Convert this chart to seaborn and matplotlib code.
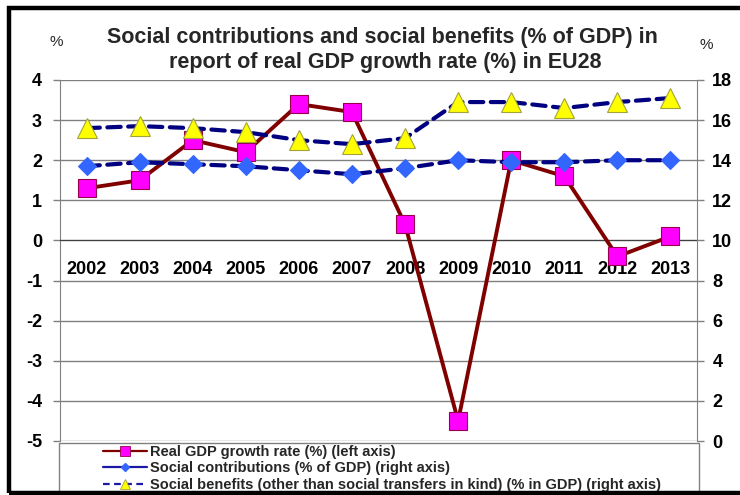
import matplotlib
matplotlib.use("Agg")
import matplotlib.pyplot as plt
from matplotlib.patches import Rectangle
from matplotlib.lines import Line2D
import seaborn as sns
import pandas as pd
import numpy as np

years = [2002, 2003, 2004, 2005, 2006, 2007, 2008, 2009, 2010, 2011, 2012, 2013]
gdp_growth = [1.3, 1.5, 2.5, 2.2, 3.4, 3.2, 0.4, -4.5, 2.0, 1.6, -0.4, 0.1]
social_contrib = [13.7, 13.9, 13.8, 13.7, 13.5, 13.3, 13.6, 14.0, 13.9, 13.9, 14.0, 14.0]
social_benefits = [15.6, 15.7, 15.6, 15.4, 15.0, 14.8, 15.1, 16.9, 16.9, 16.6, 16.9, 17.1]

title_lines = ["Social contributions and social benefits (% of GDP) in",
               "report of real GDP growth rate (%) in EU28"]
legend_labels = ["Real GDP growth rate (%) (left axis)",
                 "Social contributions (% of GDP) (right axis)",
                 "Social benefits (other than social transfers in kind) (% in GDP) (right axis)"]
left_ticks = [-5, -4, -3, -2, -1, 0, 1, 2, 3, 4]
right_ticks = [0, 2, 4, 6, 8, 10, 12, 14, 16, 18]

df = pd.DataFrame({"year": years, "gdp": gdp_growth,
                   "contrib": social_contrib, "benefits": social_benefits})

sns.set_style("white")
plt.rcParams["font.family"] = ["Liberation Sans", "DejaVu Sans"]

W, H = 740, 495
fig = plt.figure(figsize=(W / 100, H / 100), dpi=100)
fig.patch.set_facecolor("white")

ax = fig.add_axes([60 / W, 1 - 441 / H, (697 - 60) / W, (441 - 80) / H])
ax2 = ax.twinx()

# Left axis: GDP growth
sns.lineplot(data=df, x="year", y="gdp", ax=ax, color="#800000", linewidth=2.8,
             marker="s", markersize=13.5, markerfacecolor="#FF00FF",
             markeredgecolor="#99004C", markeredgewidth=0.8, zorder=3)

# Right axis: social contributions & benefits
sns.lineplot(data=df, x="year", y="contrib", ax=ax2, color="#000080", linewidth=3,
             marker="D", markersize=9, markerfacecolor="#3366FF",
             markeredgecolor="#3366FF", markeredgewidth=0.8, zorder=3)
ax2.lines[-1].set_dashes([3.2, 1.8])
ax2.lines[-1].set_dash_capstyle("round")
sns.lineplot(data=df, x="year", y="benefits", ax=ax2, color="#000080", linewidth=3,
             marker="^", markersize=14, markerfacecolor="#FFFF00",
             markeredgecolor="#A3A33A", markeredgewidth=0.8, zorder=3)
ax2.lines[-1].set_dashes([3.2, 1.8])
ax2.lines[-1].set_dash_capstyle("round")

ax.set_xlim(years[0] - 0.5, years[-1] + 0.5)
ax.set_ylim(left_ticks[0], left_ticks[-1])
ax2.set_ylim(right_ticks[0], right_ticks[-1])

ax.set_xticks(years)
ax.set_xticklabels([str(y) for y in years])
ax.set_xticks([y - 0.5 for y in years] + [years[-1] + 0.5], minor=True)
ax.set_yticks(left_ticks)
ax.set_yticklabels([str(t) for t in left_ticks])
ax2.set_yticks(right_ticks)
ax2.set_yticklabels([str(t) for t in right_ticks])

ax.set_xlabel("")
ax.set_ylabel("")
ax2.set_xlabel("")
ax2.set_ylabel("")

ax.set_axisbelow(True)
ax.yaxis.grid(True, color="#808080", linewidth=1)
ax.xaxis.grid(False)
ax2.grid(False)

for s in ["top", "right"]:
    ax.spines[s].set_visible(False)
for s in ["top", "left", "bottom"]:
    ax2.spines[s].set_visible(False)
ax.spines["left"].set_color("#808080")
ax2.spines["right"].set_color("#808080")
ax.spines["bottom"].set_position(("data", 0))
ax.spines["bottom"].set_color("#404040")

ax.tick_params(axis="x", which="major", length=0, pad=15, labelsize=13, labelcolor="black")
ax.tick_params(axis="x", which="minor", direction="inout", length=9, width=1, color="#404040")
ax.tick_params(axis="y", direction="out", length=5, width=1, color="#808080",
               pad=8, labelsize=13, labelcolor="black")
ax2.tick_params(axis="y", direction="out", length=5, width=1, color="#808080",
                pad=6, labelsize=13, labelcolor="black")
for lbl in ax.get_xticklabels() + ax.get_yticklabels() + ax2.get_yticklabels():
    lbl.set_fontweight("bold")

# Title and unit labels
fig.text(382 / W, 1 - 37 / H, title_lines[0], ha="center", va="center",
         fontsize=15.5, fontweight="bold")
fig.text(385 / W, 1 - 63 / H, title_lines[1], ha="center", va="center",
         fontsize=15.5, fontweight="bold")
fig.text(56 / W, 1 - 42 / H, "%", ha="center", va="center", fontsize=11)
fig.text(706 / W, 1 - 45 / H, "%", ha="center", va="center", fontsize=11)

# Legend box
fig.patches.append(Rectangle((59 / W, 0), (699 - 59) / W, (495 - 443) / H,
                             transform=fig.transFigure, facecolor="white",
                             edgecolor="#808080", linewidth=1, zorder=1))
handles = [
    Line2D([], [], color="#800000", lw=1.6, marker="s", markersize=7,
           markerfacecolor="#FF00FF", markeredgecolor="#99004C", markeredgewidth=0.6),
    Line2D([], [], color="#1A1AA6", lw=1.6, marker="D", markersize=4.5,
           markerfacecolor="#3366FF", markeredgecolor="#3366FF"),
    Line2D([], [], color="#1A1AA6", lw=1.6, ls=(0, (3, 2)), marker="^", markersize=7,
           markerfacecolor="#FFFF00", markeredgecolor="#A3A33A", markeredgewidth=0.6),
]
leg = fig.legend(handles, legend_labels, loc="upper left",
                 bbox_to_anchor=(103 / W, 1 - 445 / H), frameon=False,
                 borderpad=0, borderaxespad=0, handlelength=3.0, handletextpad=0.25,
                 labelspacing=0.17,
                 prop={"family": "Liberation Sans", "weight": "bold", "size": 10.5})
leg.set_zorder(5)

# Outer black frame (open on the right)
fig.patches.append(Rectangle((9 / W, 2.5 / H), 1.0, (487 - 2.5) / H,
                             transform=fig.transFigure, facecolor="none",
                             edgecolor="black", linewidth=3.2, zorder=10, clip_on=False))

fig.savefig("out.png", dpi=100)
